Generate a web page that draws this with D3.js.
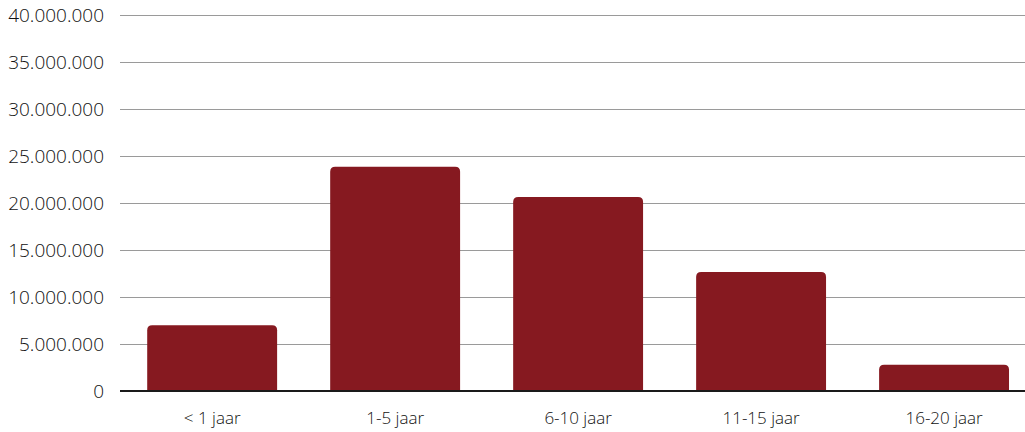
<!DOCTYPE html>
<html><head><meta charset="utf-8">
<script src="https://cdn.jsdelivr.net/npm/d3@7"></script>
<style>body{margin:0;background:#fff;} text{font-family:"Open Sans",Lato,sans-serif;}</style>
</head><body><svg id="c" width="1025" height="432"></svg>
<script>
const categories = ["< 1 jaar","1-5 jaar","6-10 jaar","11-15 jaar","16-20 jaar"];
const values = [7000000, 23850000, 20650000, 12650000, 2800000];
const yTicks = [0,5000000,10000000,15000000,20000000,25000000,30000000,35000000,40000000];

(function(){
const svg = d3.select("#c");
const mL = 120, mR = 1025, mT = 15, mB = 391;
const x = d3.scaleBand().domain(categories).range([mL, mR]).paddingInner(0.29).paddingOuter(0.118).align(0.63);
const y = d3.scaleLinear().domain([0, 40000000]).range([mB, mT]);
const fmt = d => d3.format(",")(d).replace(/,/g, ".");

svg.append("g").selectAll("line").data(yTicks.filter(d=>d>0)).join("line")
  .attr("x1", mL).attr("x2", mR).attr("y1", d=>y(d)+0.5).attr("y2", d=>y(d)+0.5)
  .attr("stroke", "#9a9a9a").attr("stroke-width", 1);

svg.append("g").selectAll("text").data(yTicks).join("text")
  .attr("x", 104).attr("y", d=>y(d)).attr("dy","0.36em").attr("text-anchor","end")
  .attr("font-size", 19).attr("font-weight", 300).attr("fill", "#111").text(fmt);

const r = 5;
svg.append("g").selectAll("path").data(categories).join("path")
  .attr("fill", "#861920")
  .attr("d", (c,i) => {
    const x0 = x(c), w = x.bandwidth(), y0 = y(values[i]), y1 = y(0);
    return `M${x0},${y1}V${y0+r}Q${x0},${y0} ${x0+r},${y0}H${x0+w-r}Q${x0+w},${y0} ${x0+w},${y0+r}V${y1}Z`;
  });

svg.append("line").attr("x1", mL).attr("x2", mR).attr("y1", y(0)).attr("y2", y(0))
  .attr("stroke", "#1a1a1a").attr("stroke-width", 2);

svg.append("g").selectAll("text").data(categories).join("text")
  .attr("x", c => x(c) + x.bandwidth()/2).attr("y", 418).attr("dy","0.36em")
  .attr("text-anchor","middle").attr("font-size", 17).attr("font-weight", 300).attr("fill","#111")
  .text(c=>c);
})();
</script></body></html>
